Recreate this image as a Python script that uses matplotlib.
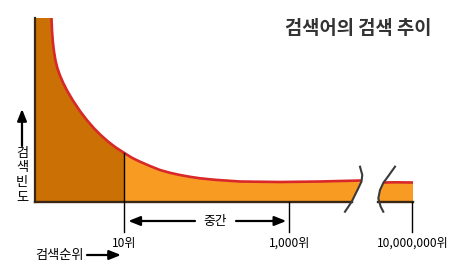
import matplotlib
matplotlib.use("Agg")
import matplotlib.pyplot as plt
from matplotlib.patches import Polygon

plt.rcParams['font.family'] = ['Noto Sans CJK KR', 'DejaVu Sans']

# Long-tail curve: position along the rank axis vs. search frequency
curve_x = [16.5, 17.0, 17.8, 19.0, 20.5, 22.5, 25.0, 28.3, 32.5, 38.0,
           45.0, 52.0, 59.0, 66.0, 73.0, 80.0, 89.3, 97.0, 105.0, 115.0,
           125.0, 135.0, 145.0, 155.0, 165.0, 180.0, 205.0, 245.0, 285.0,
           305.0, 326.5]
curve_y = [184.0, 171.9, 160.7, 150.5, 141.5, 133.5, 126.5, 118.9, 110.7, 101.4,
           90.9, 81.8, 73.7, 66.7, 60.5, 55.1, 49.0, 44.2, 40.3, 36.0,
           32.0, 29.2, 27.0, 25.2, 23.7, 22.2, 20.5, 20.0, 20.5,
           21.0, 21.5]
ceiling = 184.0
top10_x = 89.3

# Far tail segment after the axis break
tail_x = [348.5, 360.0, 378.0]
tail_y = [20.0, 19.7, 19.5]

# Axis-break squiggles
break1_x = [325.0, 327.3, 326.5, 323.3, 316.7, 310.0]
break1_y = [35.3, 27.0, 20.5, 13.7, 0.3, -9.7]
break2_x = [360.0, 351.7, 348.5, 345.0, 343.3, 345.7, 348.3]
break2_y = [35.3, 23.7, 19.5, 12.0, 3.7, -4.7, -9.7]

# Rank ticks
rank_pos = [89.3, 254.3, 377.3]
rank_labels = ['10위', '1,000위', '10,000,000위']

title = '검색어의 검색 추이'
ylabel_chars = list('검색빈도')
xlabel = '검색순위'
mid_label = '중간'

dark_orange = '#CA7004'
light_orange = '#F79B22'
red = '#D8282A'
axis_col = '#3A2612'

fig = plt.figure(figsize=(4.57, 2.79), dpi=100)
ax = fig.add_axes([0, 0, 1, 1])
ax.set_xlim(-35, 422)
ax.set_ylim(-77, 202)
ax.axis('off')

split = curve_x.index(top10_x)
top10_freq = curve_y[split]

# Head of the distribution (top 10), darker fill
head = [(0, 0), (0, ceiling)] + list(zip(curve_x[:split + 1], curve_y[:split + 1])) + [(top10_x, 0)]
ax.add_patch(Polygon(head, closed=True, facecolor=dark_orange, edgecolor='none', zorder=1))

# Middle of the distribution, lighter fill up to the break
mid = list(zip(curve_x[split:], curve_y[split:])) + \
      list(zip(break1_x[2:5], break1_y[2:5])) + [(top10_x, 0)]
ax.add_patch(Polygon(mid, closed=True, facecolor=light_orange, edgecolor='none', zorder=1))

# Tail segment after the break
tail = [(break2_x[4], 0), (break2_x[3], break2_y[3]), (break2_x[2], break2_y[2])] + \
       list(zip(tail_x[1:], tail_y[1:])) + [(tail_x[-1], 0)]
ax.add_patch(Polygon(tail, closed=True, facecolor=light_orange, edgecolor='none', zorder=1))

# Frequency curve
ax.plot(curve_x, curve_y, color=red, lw=1.9, solid_capstyle='butt', solid_joinstyle='round', zorder=3)
ax.plot([break2_x[2]] + tail_x[1:], [break2_y[2]] + tail_y[1:], color=red, lw=1.9,
        solid_capstyle='butt', zorder=3)

# Axes lines
ax.plot([0, 0], [0, ceiling], color=axis_col, lw=1.6, zorder=4)
ax.plot([0, break1_x[4]], [0, 0], color=axis_col, lw=1.7, zorder=4)
ax.plot([break2_x[4], tail_x[-1]], [0, 0], color=axis_col, lw=1.7, zorder=4)

# Break marks
ax.plot(break1_x, break1_y, color='#3a3a3a', lw=1.5, solid_joinstyle='round', zorder=5)
ax.plot(break2_x, break2_y, color='#3a3a3a', lw=1.5, solid_joinstyle='round', zorder=5)

# Rank tick lines and labels
tick_tops = [top10_freq, 0, 0]
for x, top, lab in zip(rank_pos, tick_tops, rank_labels):
    ax.plot([x, x], [top, -30], color='black', lw=1.0, zorder=4)
    ax.text(x, -41, lab, ha='center', va='center', fontsize=8.6, color='black')

# "Middle" range arrows
arrow_kw = dict(arrowstyle='-|>,head_length=0.7,head_width=0.28', color='black', lw=1.6,
                shrinkA=0, shrinkB=0)
ax.annotate('', xy=(rank_pos[0] + 4, -19), xytext=(160, -19), arrowprops=arrow_kw)
ax.annotate('', xy=(rank_pos[1] - 3, -19), xytext=(201, -19), arrowprops=arrow_kw)
ax.text(180, -19, mid_label, ha='center', va='center', fontsize=9.2, color='black')

# X axis label with arrow
ax.text(24, -53, xlabel, ha='center', va='center', fontsize=9.5, color='black')
ax.annotate('', xy=(86, -53), xytext=(52, -53), arrowprops=arrow_kw)

# Y axis label (stacked) with arrow
for i, ch in enumerate(ylabel_chars):
    ax.text(-13, 49 - i * 14.7, ch, ha='center', va='center', fontsize=9.5, color='black')
ax.annotate('', xy=(-13, 93), xytext=(-13, 56), arrowprops=arrow_kw)

# Title
ax.text(323.5, 174, title, ha='center', va='center', fontsize=13.5, fontweight='bold', color='#333333')

fig.savefig('out.png', dpi=100)
